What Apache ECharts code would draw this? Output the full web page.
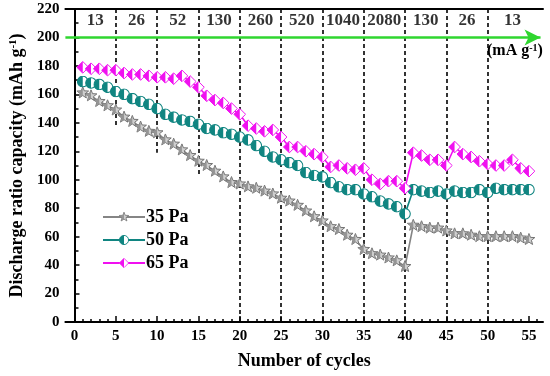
<!DOCTYPE html>
<html><head><meta charset="utf-8">
<script src="https://cdn.jsdelivr.net/npm/echarts@6/dist/echarts.min.js"></script>
<style>html,body{margin:0;padding:0;background:#fff}#c{width:550px;height:376px}</style>
</head><body><div id="c"></div>
<script>
const cycles = [1,2,3,4,5,6,7,8,9,10,11,12,13,14,15,16,17,18,19,20,21,22,23,24,25,26,27,28,29,30,31,32,33,34,35,36,37,38,39,40,41,42,43,44,45,46,47,48,49,50,51,52,53,54,55];
const pa35 = [161,159,155,152,149,144,141,137,134,133, 128,125,121,117,113,110,106,102,98,97, 95,94,92,90,87,85,82,78,74,71, 67,65,61,58,51,48,47,45,43,39, 68,67,66,66,64,62,62,61,60,60, 60,60,60,59,58];
const pa50 = [169,168,167,165,162,160,157,155,153,150, 146,144,142,141,139,136,135,133,132,130, 128,124,120,116,114,112,110,105,103,102, 98,95,93,93,90,88,85,83,81,76, 93,92,91,92,90,92,91,91,93,91, 94,93,93,93,93];
const pa65 = [179,178,178,177,177,175,174,174,173,172, 172,171,173,169,165,159,156,154,150,146, 138,136,134,135,130,123,123,120,118,116, 109,110,108,107,108,100,97,99,99,94, 119,117,114,114,110,123,118,116,113,111, 110,110,114,108,106];
const seriesNames = ['35 Pa','50 Pa','65 Pa'];
const xTicks = [0,5,10,15,20,25,30,35,40,45,50,55];
const rateLabels = ['13','26','52','130','260','520','1040','2080','130','26','13'];
const rateBounds = [0,5,10,15,20,25,30,35,40,45,50,56];
const rateLabelY = 212;
const divX = [5,10,15,20,25,30,35,40,45,50];
const divBottom = [137,119,103,0,0,0,0,0,0,0];
const arrowY = 200;

const SERIF = 'Liberation Serif';
function svgUri(s){return 'image://data:image/svg+xml;charset=utf-8,'+encodeURIComponent(s);}
const grayC='#858585', tealC='#108581', magC='#f010f0';
const starSym = svgUri("<svg xmlns='http://www.w3.org/2000/svg' width='20' height='20' viewBox='0 0 20 20'><polygon points='10,0.8 12.35,6.76 19.03,7.06 13.8,11.24 15.58,17.69 10,14 4.42,17.69 6.2,11.24 0.97,7.06 7.65,6.76' fill='#cfcfcf' stroke='#707070' stroke-width='1.5'/><path d='M10,0.8 L7.65,6.76 L0.97,7.06 L6.2,11.24 L4.42,17.69 L10,14 Z' fill='#959595'/></svg>");
const circSym = svgUri("<svg xmlns='http://www.w3.org/2000/svg' width='20' height='20' viewBox='0 0 20 20'><circle cx='10' cy='10' r='8.8' fill='#ffffff' stroke='"+tealC+"' stroke-width='1.8'/><path d='M10,1.2 A8.8,8.8 0 0 0 10,18.8 Z' fill='"+tealC+"'/></svg>");
const diaSym = svgUri("<svg xmlns='http://www.w3.org/2000/svg' width='20' height='20' viewBox='0 0 20 20'><polygon points='10,1 19,10 10,19 1,10' fill='#ffffff' stroke='"+magC+"' stroke-width='1.5'/><path d='M10,1 L1,10 L10,19 Z' fill='"+magC+"'/></svg>");

function pairs(vals){return cycles.map((c,i)=>[c,vals[i]]);}
const rateData = rateLabels.map((t,i)=>[(rateBounds[i]+rateBounds[i+1])/2, rateLabelY, t]);
const divLines = divX.map((x,i)=>[{coord:[x,220]},{coord:[x,divBottom[i]]}]);

const XMIN=-1.1, XMAX=56.7;
const chart = echarts.init(document.getElementById('c'));
const lineSeries = (name, vals, color, sym, size) => ({
  name, type:'line', data:pairs(vals), xAxisIndex:0, yAxisIndex:0,
  symbol:sym, symbolSize:size, showAllSymbol:true,
  lineStyle:{color, width:1.6}, itemStyle:{color}, z:5, animation:false
});
chart.setOption({
  animation:false,
  grid:{left:64,right:7,top:9,bottom:54},
  xAxis:[
    {type:'value',min:XMIN,max:XMAX,position:'bottom',
     axisLine:{lineStyle:{color:'#000',width:2}},
     axisTick:{show:true,inside:true,length:6,customValues:xTicks,lineStyle:{color:'#000',width:1.5}},
     axisLabel:{customValues:xTicks,color:'#000',fontFamily:SERIF,fontWeight:'bold',fontSize:15,margin:7},
     splitLine:{show:false},
     name:'Number of cycles',nameLocation:'middle',nameGap:30,
     nameTextStyle:{color:'#000',fontFamily:SERIF,fontWeight:'bold',fontSize:18}},
    {type:'value',min:XMIN,max:XMAX,position:'bottom',
     axisLine:{show:false},
     axisTick:{show:true,inside:true,length:3,customValues:[0,1,2,3,4,5,6,7,8,9,10,11,12,13,14,15,16,17,18,19,20,21,22,23,24,25,26,27,28,29,30,31,32,33,34,35,36,37,38,39,40,41,42,43,44,45,46,47,48,49,50,51,52,53,54,55,56],lineStyle:{color:'#000',width:1.5}},
     axisLabel:{show:false},splitLine:{show:false}},
    {type:'value',min:XMIN,max:XMAX,position:'top',
     axisLine:{lineStyle:{color:'#000',width:2}},axisTick:{show:false},axisLabel:{show:false},splitLine:{show:false}}
  ],
  yAxis:[
    {type:'value',min:0,max:220,interval:20,position:'left',
     axisLine:{show:true,lineStyle:{color:'#000',width:2}},
     axisTick:{show:true,inside:true,length:5,lineStyle:{color:'#000',width:1.5}},
     minorTick:{show:true,splitNumber:2,length:4,lineStyle:{color:'#000',width:1.5}},
     axisLabel:{color:'#000',fontFamily:SERIF,fontWeight:'bold',fontSize:15,margin:6},
     splitLine:{show:false},
     name:'Discharge ratio capacity (mAh g{sup|-1})',nameLocation:'middle',nameGap:38,
     nameTextStyle:{color:'#000',fontFamily:SERIF,fontWeight:'bold',fontSize:18,
       rich:{sup:{fontFamily:SERIF,fontWeight:'bold',fontSize:11,verticalAlign:'top',color:'#000'}}}},
    {type:'value',min:0,max:220,position:'right',
     axisLine:{show:true,lineStyle:{color:'#000',width:2}},axisTick:{show:false},axisLabel:{show:false},splitLine:{show:false}}
  ],
  legend:{data:seriesNames,orient:'vertical',left:97,top:203,itemWidth:42,itemHeight:13,itemGap:5,
    textStyle:{color:'#000',fontFamily:SERIF,fontWeight:'bold',fontSize:18,padding:[0,0,0,-4]}},
  graphic:[{type:'text',left:487,top:43,
    style:{text:'(mA g{sup|-1})',fill:'#000',fontFamily:SERIF,fontWeight:'bold',fontSize:16,
      rich:{sup:{fontFamily:SERIF,fontWeight:'bold',fontSize:10,verticalAlign:'top',fill:'#000'}}}}],
  series:[
    {type:'scatter',name:'rates',data:rateData,symbolSize:0,xAxisIndex:0,yAxisIndex:0,silent:true,
     label:{show:true,position:'inside',formatter:p=>p.value[2],color:'#000',fontFamily:SERIF,fontWeight:'bold',fontSize:17},
     markLine:{silent:true,symbol:['none','none'],label:{show:false},
       lineStyle:{color:'#000',type:[4,3],width:1.6},data:divLines},
     z:2},
    {type:'line',name:'arrow',data:[],xAxisIndex:0,yAxisIndex:0,silent:true,
     markLine:{silent:true,symbol:['none','arrow'],symbolSize:[12,16],label:{show:false},
       lineStyle:{color:'#2fd62f',type:'solid',width:2.5},
       data:[[{coord:[XMIN,arrowY]},{coord:[56.4,arrowY]}]]},z:3},
    lineSeries('35 Pa',pa35,grayC,starSym,13),
    lineSeries('50 Pa',pa50,tealC,circSym,12),
    lineSeries('65 Pa',pa65,magC,diaSym,13)
  ]
});
</script></body></html>
